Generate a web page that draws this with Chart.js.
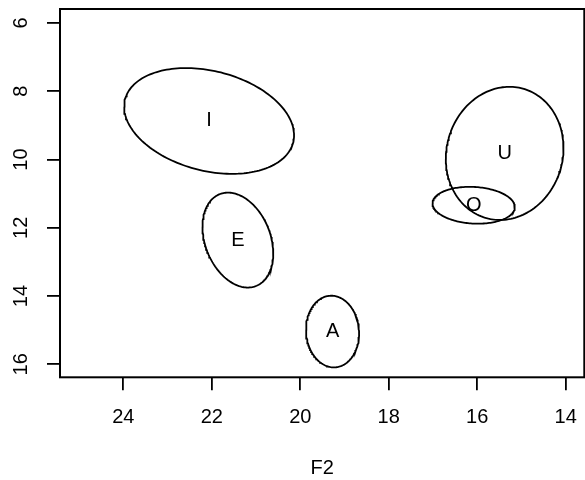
<!DOCTYPE html>
<html><head><meta charset="utf-8">
<script src="https://cdn.jsdelivr.net/npm/chart.js@4/dist/chart.umd.min.js"></script>
<style>html,body{margin:0;padding:0;background:#fff;} canvas{display:block;}</style>
</head><body>
<canvas id="c" width="585" height="480"></canvas>
<script>
// Vowel ellipses: centre (F2, F1), half-range along each axis, and F2–F1 correlation
const vowels   = ['I', 'E', 'A', 'O', 'U'];
const centerF2 = [22.06, 21.41, 19.27, 16.08, 15.38];
const centerF1 = [8.87, 12.36, 15.04, 11.34, 9.82];
const spreadF2 = [1.92, 0.80, 0.60, 0.93, 1.33];
const spreadF1 = [1.55, 1.39, 1.05, 0.54, 1.95];
const corr     = [-0.27, -0.28, -0.05, -0.10, 0.08];
const xTicks   = [24, 22, 20, 18, 16, 14];
const yTicks   = [6, 8, 10, 12, 14, 16];
const xTitle   = 'F2';

const FONT = '"Liberation Sans", Arial, Helvetica, sans-serif';

function ellipsePoints(i) {
  const phi = Math.acos(corr[i]);
  const pts = [];
  for (let k = 0; k <= 180; k++) {
    const t = 2 * Math.PI * k / 180;
    pts.push({ x: centerF2[i] + spreadF2[i] * Math.cos(t),
               y: centerF1[i] + spreadF1[i] * Math.cos(t + phi) });
  }
  return pts;
}

const datasets = vowels.map((v, i) => ({
  label: v, data: ellipsePoints(i), showLine: true,
  borderColor: '#000', borderWidth: 1.8, pointRadius: 0, fill: false, tension: 0
}));

const framePlugin = {
  id: 'frame',
  afterDraw(chart) {
    const { ctx, chartArea: a, scales: { x, y } } = chart;
    ctx.save();
    ctx.strokeStyle = '#000';
    ctx.lineWidth = 2;
    ctx.strokeRect(a.left, a.top, a.right - a.left, a.bottom - a.top);
    ctx.fillStyle = '#000';
    ctx.font = '20px ' + FONT;
    ctx.textAlign = 'center';
    ctx.textBaseline = 'middle';
    yTicks.forEach(v => {
      const py = y.getPixelForValue(v);
      ctx.save();
      ctx.translate(21.7, py);
      ctx.rotate(-Math.PI / 2);
      ctx.fillText(String(v), 0, 0);
      ctx.restore();
    });
    vowels.forEach((v, i) => {
      ctx.fillText(v, x.getPixelForValue(centerF2[i]), y.getPixelForValue(centerF1[i]));
    });
    ctx.restore();
  }
};

const gridOpts = { drawOnChartArea: false, drawTicks: true, tickLength: 13, color: '#000', lineWidth: 1.8 };

new Chart(document.getElementById('c'), {
  type: 'scatter',
  data: { datasets },
  options: {
    responsive: false,
    devicePixelRatio: 1,
    animation: false,
    layout: { padding: { top: 9, right: 0.7, left: 0, bottom: 0 } },
    plugins: { legend: { display: false }, tooltip: { enabled: false } },
    scales: {
      x: {
        type: 'linear', position: 'bottom', min: 13.58, max: 25.43, reverse: true,
        afterBuildTicks: s => { s.ticks = xTicks.map(v => ({ value: v })); },
        afterFit: s => { s.height = 102.7; s.paddingLeft = 0; s.paddingRight = 0; },
        grid: gridOpts,
        border: { display: false },
        ticks: { color: '#000', font: { family: FONT, size: 20 }, padding: 15,
                 minRotation: 0, maxRotation: 0, autoSkip: false, callback: v => String(v) },
        title: { display: true, text: xTitle, color: '#000', font: { family: FONT, size: 20 },
                 padding: { top: 0, bottom: 0 } }
      },
      y: {
        type: 'linear', position: 'left', min: 5.59, max: 16.38, reverse: true,
        afterBuildTicks: s => { s.ticks = yTicks.map(v => ({ value: v })); },
        afterFit: s => { s.width = 60; s.paddingTop = 0; s.paddingBottom = 0; },
        grid: gridOpts,
        border: { display: false },
        ticks: { display: false }
      }
    }
  },
  plugins: [framePlugin]
});
</script>
</body></html>
